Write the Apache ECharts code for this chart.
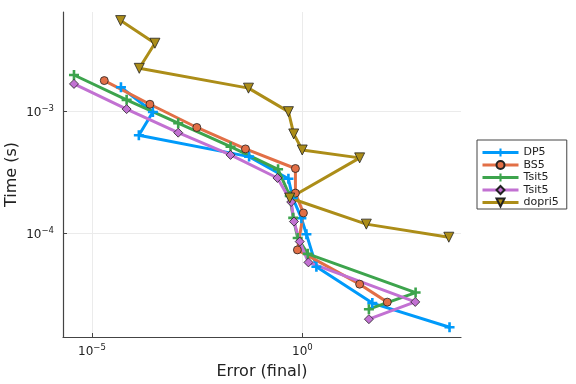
<!DOCTYPE html>
<html>
<head>
<meta charset="utf-8">
<script src="https://cdn.jsdelivr.net/npm/echarts@6/dist/echarts.min.js"></script>
<style>html,body{margin:0;padding:0;background:#fff}#c{width:576px;height:384px}</style>
</head>
<body>
<div id="c"></div>
<script>
// ---- data (Error (final), Time (s)) ----
// the second "Tsit5" carries a trailing space so the legend keeps both entries
const seriesNames = ['DP5', 'BS5', 'Tsit5', 'Tsit5 ', 'dopri5'];
const dp5Err  = [4.88e-5, 2.80e-4, 1.30e-4, 0.0541, 0.465, 0.589, 0.946, 1.245, 2.15, 45.8, 3130];
const dp5Time = [1.587e-3, 9.94e-4, 6.40e-4, 4.27e-4, 2.81e-4, 1.95e-4, 1.33e-4, 9.84e-5, 5.32e-5, 2.67e-5, 1.69e-5];
const bs5Err  = [1.96e-5, 2.38e-4, 3.10e-3, 0.0444, 0.682, 0.682, 1.056, 0.761, 22.9, 104];
const bs5Time = [1.80e-3, 1.15e-3, 7.41e-4, 4.94e-4, 3.41e-4, 2.14e-4, 1.47e-4, 7.31e-5, 3.82e-5, 2.72e-5];
const tsitAErr  = [3.74e-6, 6.66e-5, 1.12e-3, 0.0196, 0.264, 0.50, 0.605, 0.773, 1.34, 489, 38.0];
const tsitATime = [2.00e-3, 1.25e-3, 8.03e-4, 5.15e-4, 3.36e-4, 2.03e-4, 1.34e-4, 9.16e-5, 6.78e-5, 3.26e-5, 2.38e-5];
const tsitBErr  = [3.74e-6, 6.66e-5, 1.12e-3, 0.0196, 0.255, 0.542, 0.629, 0.863, 1.39, 480, 38.0];
const tsitBTime = [1.69e-3, 1.05e-3, 6.72e-4, 4.41e-4, 2.85e-4, 1.81e-4, 1.25e-4, 8.55e-5, 5.77e-5, 2.73e-5, 1.97e-5];
const dopriErr  = [4.80e-5, 3.13e-4, 1.33e-4, 0.0523, 0.465, 0.622, 0.99, 22.9, 0.50, 33.0, 3010];
const dopriTime = [5.60e-3, 3.65e-3, 2.27e-3, 1.56e-3, 1.0e-3, 6.56e-4, 4.84e-4, 4.17e-4, 1.95e-4, 1.19e-4, 9.29e-5];
const xTicks = [1e-5, 1];
const yTicks = [1e-4, 1e-3];
const xRange = [2.05e-6, 5860];
const yRange = [1.406e-5, 6.59e-3];

const L = Math.log10;
const pts = (xs, ys) => xs.map((x, i) => [L(x), L(ys[i])]);
const colors = ['#009AFA', '#E26F46', '#3DA44D', '#C271D2', '#AC8D18'];
const plus = 'path://M-1.3,-5H1.3V-1.3H5V1.3H1.3V5H-1.3V1.3H-5V-1.3H-1.3Z';
const symbols = [plus, 'circle', plus, 'diamond', 'triangle'];
const sizes = [10, 8, 10, 9, 10];
const rot = [0, 0, 0, 0, 180];
const datas = [pts(dp5Err, dp5Time), pts(bs5Err, bs5Time), pts(tsitAErr, tsitATime), pts(tsitBErr, tsitBTime), pts(dopriErr, dopriTime)];

const F = 'DejaVu Sans';
const sup = v => '{b|10}{s|' + String(Math.round(v)).replace('-', '\u2212') + '}';
const rich = { b: { fontSize: 12, fontFamily: F, color: '#222', verticalAlign: 'bottom' },
               s: { fontSize: 8.5, fontFamily: F, color: '#222', verticalAlign: 'bottom', padding: [0, 0, 6, 0] } };

const series = datas.map((d, i) => ({
  name: seriesNames[i], type: 'line', data: d, symbol: symbols[i], symbolSize: sizes[i], symbolRotate: rot[i],
  showAllSymbol: true, animation: false,
  lineStyle: { color: colors[i], width: 3 },
  itemStyle: { color: colors[i], borderColor: symbols[i] === plus ? colors[i] : '#222', borderWidth: symbols[i] === plus ? 0 : 0.8, opacity: 1 },
  emphasis: { disabled: true }
}));

const chart = echarts.init(document.getElementById('c'), null, { renderer: 'canvas' });
chart.setOption({
  animation: false,
  backgroundColor: '#fff',
  grid: { left: 63, right: 115, top: 12, bottom: 47, containLabel: false, outerBoundsMode: 'none' },
  legend: {
    orient: 'vertical', left: 477, top: 140, data: seriesNames.map(n => ({ name: n })),
    itemWidth: 36, itemHeight: 10, itemGap: 1.5, padding: [7, 8, 1, 4],
    lineStyle: { width: 3 },
    borderColor: '#444', borderWidth: 1, backgroundColor: '#fff',
    textStyle: { fontFamily: F, fontSize: 11, color: '#222' }, selectedMode: false
  },
  xAxis: {
    type: 'value', min: L(xRange[0]), max: L(xRange[1]),
    name: 'Error (final)', nameLocation: 'middle', nameGap: 27, nameMoveOverlap: false,
    nameTextStyle: { fontFamily: F, fontSize: 16, color: '#222' },
    axisLine: { show: true, onZero: false, lineStyle: { color: '#444', width: 1.2 } },
    axisTick: { inside: true, length: 4, lineStyle: { color: '#444' }, customValues: xTicks.map(L) },
    axisLabel: { customValues: xTicks.map(L), formatter: sup, rich: rich, margin: 6 },
    splitLine: { show: true, lineStyle: { color: '#ebebeb', width: 1 } }
  },
  yAxis: {
    type: 'value', min: L(yRange[0]), max: L(yRange[1]),
    name: 'Time (s)', nameLocation: 'middle', nameGap: 43, nameMoveOverlap: false,
    nameTextStyle: { fontFamily: F, fontSize: 16, color: '#222' },
    axisLine: { show: true, onZero: false, lineStyle: { color: '#444', width: 1.2 } },
    axisTick: { show: true, inside: true, length: 4, lineStyle: { color: '#444' }, customValues: yTicks.map(L) },
    axisLabel: { customValues: yTicks.map(L), formatter: sup, rich: rich, margin: 9 },
    splitLine: { show: true, lineStyle: { color: '#ebebeb', width: 1 } }
  },
  series: series
});
</script>
</body>
</html>
